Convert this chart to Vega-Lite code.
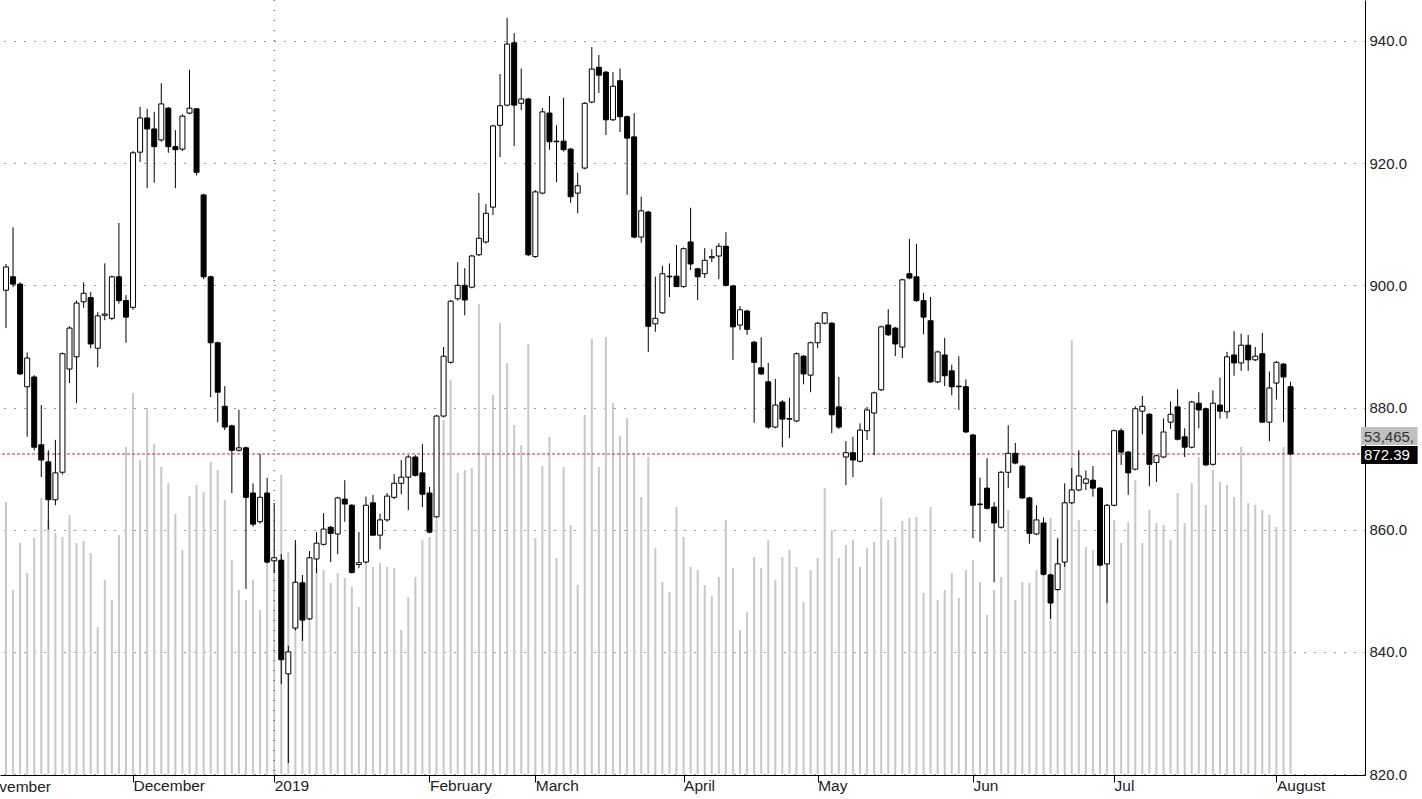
{
"$schema":"https://vega.github.io/schema/vega-lite/v6.json",
"width":1365,"height":775,
"autosize":{"type":"none"},
"padding":{"left":0,"top":0,"right":57,"bottom":24},
"background":"white",
"config":{"view":{"stroke":null},"font":"Liberation Sans"},
"datasets":{"candles":[
{"i":0,"o":899.2,"h":903.5,"l":893,"c":903,"v":43030},
{"i":1,"o":901.4,"h":909.5,"l":899.7,"c":900.2,"v":29109},
{"i":2,"o":900.2,"h":900.5,"l":885.3,"c":885.5,"v":36544},
{"i":3,"o":883.4,"h":889,"l":875.2,"c":888.1,"v":31798},
{"i":4,"o":885,"h":885.3,"l":873,"c":873.5,"v":37335},
{"i":5,"o":873.9,"h":880.4,"l":868.6,"c":871.4,"v":43663},
{"i":6,"o":871.1,"h":873,"l":860,"c":864.9,"v":40183},
{"i":7,"o":864.9,"h":874.7,"l":864,"c":869.3,"v":38126},
{"i":8,"o":869.4,"h":889,"l":869,"c":888.8,"v":37493},
{"i":9,"o":886.3,"h":893.3,"l":884,"c":893,"v":40974},
{"i":10,"o":888.3,"h":897.5,"l":880.7,"c":897.1,"v":36544},
{"i":11,"o":897.3,"h":900.5,"l":896.3,"c":898.7,"v":36861},
{"i":12,"o":898,"h":898.9,"l":889.7,"c":890.4,"v":34962},
{"i":13,"o":889.7,"h":895.6,"l":886.6,"c":895,"v":23255},
{"i":14,"o":895.1,"h":903.6,"l":894.3,"c":895.3,"v":30691},
{"i":15,"o":894.6,"h":901.6,"l":894.3,"c":901.4,"v":27527},
{"i":16,"o":901.4,"h":910.2,"l":897,"c":897.5,"v":37810},
{"i":17,"o":897.5,"h":898.4,"l":890.6,"c":894.8,"v":51731},
{"i":18,"o":896.4,"h":922,"l":896,"c":921.7,"v":60274},
{"i":19,"o":921.8,"h":929.2,"l":920.2,"c":927.4,"v":49675},
{"i":20,"o":927.4,"h":928.9,"l":915.9,"c":925.6,"v":57901},
{"i":21,"o":925.6,"h":928.4,"l":916.8,"c":922.7,"v":52206},
{"i":22,"o":923.8,"h":933.1,"l":923.5,"c":929.7,"v":48567},
{"i":23,"o":929,"h":929.2,"l":921.7,"c":922.7,"v":46036},
{"i":24,"o":922.7,"h":925.4,"l":915.9,"c":922.2,"v":41132},
{"i":25,"o":922.3,"h":928,"l":922,"c":927.7,"v":35437},
{"i":26,"o":928.2,"h":935.3,"l":928,"c":929,"v":43980},
{"i":27,"o":928.9,"h":929,"l":918,"c":918.5,"v":45720},
{"i":28,"o":914.8,"h":915,"l":901,"c":901.4,"v":44612},
{"i":29,"o":901.4,"h":901.6,"l":881.7,"c":890.6,"v":49358},
{"i":30,"o":890.6,"h":890.8,"l":877.6,"c":882.5,"v":48093},
{"i":31,"o":880.2,"h":883.5,"l":876.3,"c":876.8,"v":43347},
{"i":32,"o":877,"h":877.2,"l":866,"c":873,"v":33855},
{"i":33,"o":873,"h":879.6,"l":872.8,"c":873.4,"v":29109},
{"i":34,"o":873.4,"h":873.6,"l":850.3,"c":865.3,"v":27527},
{"i":35,"o":866,"h":867.6,"l":860.5,"c":860.9,"v":30691},
{"i":36,"o":861.3,"h":872.4,"l":861,"c":865.3,"v":25945},
{"i":37,"o":866,"h":868.5,"l":854.5,"c":854.7,"v":33855},
{"i":38,"o":854.9,"h":864.4,"l":852.9,"c":855.4,"v":33855},
{"i":39,"o":855,"h":856,"l":834.7,"c":838.7,"v":47302},
{"i":40,"o":836.4,"h":841,"l":821.8,"c":840,"v":35120},
{"i":41,"o":843.9,"h":858.3,"l":843.5,"c":851.4,"v":36228},
{"i":42,"o":851.3,"h":852.6,"l":841.8,"c":845.2,"v":30691},
{"i":43,"o":845.4,"h":856.5,"l":845.2,"c":855.4,"v":31482},
{"i":44,"o":855.2,"h":859.6,"l":852.9,"c":857.8,"v":32589},
{"i":45,"o":857.6,"h":862.7,"l":857.4,"c":860.1,"v":32273},
{"i":46,"o":860.4,"h":860.6,"l":854.7,"c":859.4,"v":30216},
{"i":47,"o":859.3,"h":865.4,"l":856,"c":865.2,"v":31798},
{"i":48,"o":865,"h":868.1,"l":861.3,"c":864.2,"v":31007},
{"i":49,"o":864,"h":864.2,"l":852.8,"c":853,"v":29583},
{"i":50,"o":854.3,"h":859.6,"l":853.7,"c":854.6,"v":26419},
{"i":51,"o":854.7,"h":865.4,"l":854.5,"c":864,"v":33855},
{"i":52,"o":864.4,"h":865.7,"l":859,"c":859.1,"v":32747},
{"i":53,"o":859.1,"h":862.6,"l":856.8,"c":861.6,"v":33380},
{"i":54,"o":861.6,"h":866,"l":861.3,"c":865.5,"v":32747},
{"i":55,"o":865.3,"h":869.1,"l":865,"c":867.6,"v":32589},
{"i":56,"o":867.6,"h":871.4,"l":865.8,"c":868.6,"v":22781},
{"i":57,"o":868.6,"h":872.2,"l":863.2,"c":871.9,"v":28001},
{"i":58,"o":871.9,"h":872.2,"l":868.7,"c":868.9,"v":31165},
{"i":59,"o":869.3,"h":874,"l":863.7,"c":865.8,"v":37019},
{"i":60,"o":866,"h":867,"l":859.4,"c":859.6,"v":37493},
{"i":61,"o":862.1,"h":878.8,"l":862,"c":878.6,"v":51257},
{"i":62,"o":878.6,"h":889.9,"l":878.4,"c":888.4,"v":56003},
{"i":63,"o":887.4,"h":897.6,"l":887.2,"c":897.4,"v":62331},
{"i":64,"o":897.8,"h":903.8,"l":897.5,"c":900,"v":47618},
{"i":65,"o":900,"h":902.8,"l":895.1,"c":897.6,"v":48093},
{"i":66,"o":899.7,"h":905,"l":899.5,"c":904.8,"v":48409},
{"i":67,"o":905,"h":915.1,"l":904.8,"c":907.7,"v":74354},
{"i":68,"o":907.1,"h":913.3,"l":906.8,"c":911.8,"v":50782},
{"i":69,"o":912.8,"h":926.3,"l":911.5,"c":926.1,"v":59958},
{"i":70,"o":926.2,"h":934.6,"l":921,"c":929.4,"v":71348},
{"i":71,"o":929.5,"h":943.8,"l":929.3,"c":939.5,"v":65020},
{"i":72,"o":939.7,"h":941.3,"l":922.8,"c":929.5,"v":55212},
{"i":73,"o":929.8,"h":935.5,"l":928.7,"c":930.5,"v":52048},
{"i":74,"o":930.5,"h":930.7,"l":904.8,"c":905,"v":68026},
{"i":75,"o":904.7,"h":915.6,"l":904.5,"c":915.3,"v":37335},
{"i":76,"o":915.1,"h":929,"l":914.9,"c":928.4,"v":48726},
{"i":77,"o":928.2,"h":931,"l":922.2,"c":923.5,"v":53313},
{"i":78,"o":923.6,"h":926.2,"l":916.9,"c":923.5,"v":34171},
{"i":79,"o":923.6,"h":930.7,"l":921.9,"c":922.2,"v":48567},
{"i":80,"o":922.3,"h":922.5,"l":913.5,"c":914.5,"v":39392},
{"i":81,"o":915.1,"h":918.4,"l":911.8,"c":916.3,"v":29900},
{"i":82,"o":919.2,"h":930,"l":919,"c":929.8,"v":56794},
{"i":83,"o":930,"h":939,"l":929.8,"c":935.4,"v":68817},
{"i":84,"o":935.7,"h":937.7,"l":931.5,"c":934.4,"v":48567},
{"i":85,"o":934.9,"h":935.1,"l":924.6,"c":927.1,"v":69133},
{"i":86,"o":927.1,"h":934.9,"l":926.9,"c":932.6,"v":58692},
{"i":87,"o":933.5,"h":935.5,"l":925.1,"c":927.6,"v":53472},
{"i":88,"o":927.6,"h":927.8,"l":914.8,"c":924.1,"v":56319},
{"i":89,"o":924.3,"h":928.2,"l":907.7,"c":907.9,"v":50782},
{"i":90,"o":907.9,"h":914.5,"l":907,"c":912.2,"v":43821},
{"i":91,"o":912,"h":912.2,"l":889.1,"c":893.3,"v":50149},
{"i":92,"o":893.7,"h":901.4,"l":892.4,"c":894.6,"v":35753},
{"i":93,"o":895.5,"h":903.2,"l":895.3,"c":901.9,"v":30374},
{"i":94,"o":901.5,"h":903.6,"l":898.1,"c":901.4,"v":28792},
{"i":95,"o":901.5,"h":906.6,"l":899.7,"c":899.8,"v":42239},
{"i":96,"o":899.8,"h":906.2,"l":899.6,"c":906,"v":37493},
{"i":97,"o":907.1,"h":912.7,"l":902.5,"c":903.5,"v":32747},
{"i":98,"o":902.7,"h":902.9,"l":897.6,"c":901.4,"v":32273},
{"i":99,"o":901.9,"h":906.1,"l":901.2,"c":904.1,"v":29900},
{"i":100,"o":904.5,"h":905.9,"l":903.8,"c":904.7,"v":28160},
{"i":101,"o":904.8,"h":906.9,"l":901,"c":906.4,"v":31165},
{"i":102,"o":906.4,"h":908.7,"l":899.8,"c":900,"v":40183},
{"i":103,"o":899.9,"h":900.1,"l":887.8,"c":893.2,"v":32589},
{"i":104,"o":893.5,"h":896.6,"l":892.7,"c":896,"v":22781},
{"i":105,"o":895.8,"h":896,"l":891.9,"c":892.8,"v":25628},
{"i":106,"o":890.7,"h":890.9,"l":877.5,"c":887.4,"v":34329},
{"i":107,"o":886.5,"h":891.5,"l":885.3,"c":885.5,"v":32589},
{"i":108,"o":884.2,"h":887.3,"l":876.5,"c":876.8,"v":37019},
{"i":109,"o":876.8,"h":884.7,"l":876.6,"c":880.4,"v":30691},
{"i":110,"o":880.9,"h":881.2,"l":873.5,"c":878.1,"v":34329},
{"i":111,"o":878.2,"h":881.6,"l":875,"c":878.1,"v":35437},
{"i":112,"o":877.8,"h":889,"l":877.6,"c":888.8,"v":32747},
{"i":113,"o":888.4,"h":888.6,"l":883.8,"c":885.5,"v":27210},
{"i":114,"o":885.3,"h":890.8,"l":882.5,"c":890.6,"v":32273},
{"i":115,"o":890.6,"h":894,"l":889.7,"c":893.8,"v":34171},
{"i":116,"o":893.8,"h":895.6,"l":893.6,"c":895.5,"v":45245},
{"i":117,"o":893.8,"h":894,"l":875.8,"c":878.8,"v":38601},
{"i":118,"o":880.1,"h":885,"l":876.5,"c":876.8,"v":34171},
{"i":119,"o":871.9,"h":874.5,"l":867.3,"c":872.6,"v":36228},
{"i":120,"o":872.6,"h":875.2,"l":868.6,"c":871.4,"v":37019},
{"i":121,"o":871.2,"h":877.4,"l":871,"c":876.3,"v":32747},
{"i":122,"o":876.2,"h":880.1,"l":874.7,"c":879.6,"v":35753},
{"i":123,"o":879.1,"h":882.6,"l":872.2,"c":882.4,"v":36702},
{"i":124,"o":882.9,"h":893.4,"l":882.7,"c":893.2,"v":43663},
{"i":125,"o":893.5,"h":896.1,"l":891.7,"c":891.9,"v":37019},
{"i":126,"o":893,"h":893.2,"l":888.4,"c":890.4,"v":37493},
{"i":127,"o":889.9,"h":901.1,"l":888.1,"c":900.9,"v":40025},
{"i":128,"o":901.9,"h":907.6,"l":901,"c":901.2,"v":40499},
{"i":129,"o":901.4,"h":906.8,"l":897.3,"c":897.5,"v":40657},
{"i":130,"o":897.5,"h":898.8,"l":892,"c":894.8,"v":28634},
{"i":131,"o":894.2,"h":898.1,"l":884,"c":884.2,"v":42239},
{"i":132,"o":884.2,"h":889.3,"l":884,"c":889.1,"v":27527},
{"i":133,"o":888.6,"h":891.4,"l":883.5,"c":885.2,"v":29109},
{"i":134,"o":886,"h":887,"l":882,"c":883.4,"v":31798},
{"i":135,"o":883.5,"h":888.4,"l":879.6,"c":883.4,"v":27843},
{"i":136,"o":883.4,"h":884.6,"l":875.8,"c":876,"v":32273},
{"i":137,"o":875.5,"h":875.7,"l":858.6,"c":864,"v":33855},
{"i":138,"o":864.1,"h":868.5,"l":858,"c":864.2,"v":30374},
{"i":139,"o":866.8,"h":871.7,"l":863.3,"c":863.5,"v":25154},
{"i":140,"o":863.7,"h":864.5,"l":851.4,"c":861.1,"v":29109},
{"i":141,"o":860.4,"h":869.6,"l":860.2,"c":869.4,"v":31165},
{"i":142,"o":869.4,"h":877.1,"l":866.8,"c":872.5,"v":41765},
{"i":143,"o":872.5,"h":874.2,"l":870.7,"c":870.9,"v":27527},
{"i":144,"o":870.4,"h":870.6,"l":865,"c":865.2,"v":30374},
{"i":145,"o":865.2,"h":865.4,"l":857.7,"c":859.4,"v":30216},
{"i":146,"o":859.3,"h":864,"l":859.1,"c":861.6,"v":32273},
{"i":147,"o":861.1,"h":862,"l":852.5,"c":852.7,"v":33855},
{"i":148,"o":852.6,"h":852.8,"l":845.4,"c":848,"v":40499},
{"i":149,"o":850.2,"h":858.5,"l":850,"c":854.4,"v":37493},
{"i":150,"o":854.7,"h":867.6,"l":853.9,"c":864.4,"v":38601},
{"i":151,"o":864.4,"h":870.1,"l":864.2,"c":866.5,"v":68659},
{"i":152,"o":866.5,"h":873,"l":866.3,"c":868.8,"v":40183},
{"i":153,"o":867.6,"h":869.7,"l":866.5,"c":868.3,"v":35911},
{"i":154,"o":868.1,"h":870.4,"l":865.4,"c":866.8,"v":35437},
{"i":155,"o":866.8,"h":867,"l":854,"c":854.2,"v":38601},
{"i":156,"o":854.4,"h":864.2,"l":848,"c":864,"v":37019},
{"i":157,"o":864,"h":876.4,"l":863.8,"c":876.2,"v":40183},
{"i":158,"o":876.2,"h":876.6,"l":870.6,"c":872.7,"v":36544},
{"i":159,"o":872.7,"h":872.9,"l":865.7,"c":869.3,"v":39866},
{"i":160,"o":869.9,"h":880.2,"l":869.7,"c":879.8,"v":46511},
{"i":161,"o":879.4,"h":881.9,"l":875.6,"c":880.2,"v":36544},
{"i":162,"o":878.9,"h":879.1,"l":867.1,"c":870.7,"v":41765},
{"i":163,"o":871,"h":872.3,"l":867.8,"c":872.1,"v":39708},
{"i":164,"o":871.9,"h":878.2,"l":871.7,"c":876,"v":39392},
{"i":165,"o":877.6,"h":881,"l":876.5,"c":878.9,"v":37019},
{"i":166,"o":880.1,"h":883,"l":874.6,"c":874.8,"v":44454},
{"i":167,"o":875.2,"h":876.6,"l":871.9,"c":873.5,"v":39708},
{"i":168,"o":873.5,"h":881.1,"l":873.3,"c":880.9,"v":46036},
{"i":169,"o":880.7,"h":882.5,"l":876.6,"c":879.6,"v":50149},
{"i":170,"o":879.8,"h":880,"l":870.4,"c":870.6,"v":42556},
{"i":171,"o":870.7,"h":882.8,"l":870.5,"c":880.7,"v":48093},
{"i":172,"o":880.4,"h":884.9,"l":878.2,"c":879.4,"v":46194},
{"i":173,"o":879.3,"h":889.1,"l":878.2,"c":888.3,"v":45720},
{"i":174,"o":888.6,"h":892.5,"l":885.2,"c":887.3,"v":43821},
{"i":175,"o":887.3,"h":892.1,"l":886,"c":890.2,"v":51731},
{"i":176,"o":890.2,"h":891.9,"l":886,"c":887.8,"v":42872},
{"i":177,"o":887.8,"h":889.9,"l":887.6,"c":888.4,"v":42556},
{"i":178,"o":888.8,"h":892.2,"l":877.5,"c":877.6,"v":41765},
{"i":179,"o":877.6,"h":885.9,"l":874.5,"c":883.2,"v":40974},
{"i":180,"o":884,"h":887.6,"l":881.3,"c":887.4,"v":39075},
{"i":181,"o":887.1,"h":887.3,"l":877.6,"c":885,"v":51731},
{"i":182,"o":883.4,"h":884.2,"l":872.2,"c":872.39,"v":53465}
]},
"layer":[
{"data":{"name":"candles"},
 "layer":[
  {"mark":{"type":"rule","color":"#c8c8c8","strokeWidth":2},
   "encoding":{
    "x":{"field":"i","type":"quantitative","scale":{"domain":[-0.1406,191.84],"nice":false,"zero":false},
      "axis":{"orient":"bottom","values":[18,38,60,75,96,115,137,157,180],
        "labelExpr":"datum.value==18?'December':datum.value==38?'2019':datum.value==60?'February':datum.value==75?'March':datum.value==96?'April':datum.value==115?'May':datum.value==137?'Jun':datum.value==157?'Jul':'August'",
        "grid":false,"ticks":true,"tickSize":7,"tickColor":"#000000","domainColor":"#000000","labelAlign":"left","labelBaseline":"top","labelPadding":-4,"labelOffset":0,"labelFontSize":15.5,"labelFont":"Liberation Sans","labelColor":"#222222","labelFlush":false,"labelOverlap":false,"labelBound":false,"title":null}},
    "y":{"field":"v","type":"quantitative","scale":{"domain":[-158.2,122447],"nice":false,"zero":false},"axis":null},
    "y2":{"datum":0}}},
  {"data":{"values":[{"v":53465,"lo":52048,"hi":54895,"x0":192.0,"x1":200}]},
   "mark":{"type":"rect","color":"#c0c0c0"},
   "encoding":{"x":{"field":"x0","type":"quantitative"},"x2":{"field":"x1"},"y":{"field":"lo","type":"quantitative"},"y2":{"field":"hi"}}},
  {"data":{"values":[{"v":53465,"xt":192.4,"label":"53,465,"}]},
   "mark":{"type":"text","align":"left","baseline":"middle","fontSize":15,"font":"Liberation Sans","color":"#333333","dy":1},
   "encoding":{"x":{"field":"xt","type":"quantitative"},"y":{"field":"v","type":"quantitative"},"text":{"field":"label"}}}
 ]},
{"data":{"name":"candles"},
 "layer":[
  {"data":{"values":[{"yr":38}]},
   "mark":{"type":"rule","color":"#333333","strokeWidth":1,"strokeDash":[1,9]},
   "encoding":{"x":{"field":"yr","type":"quantitative"}}},
  {"data":{"values":[{"last":872.39}]},
   "mark":{"type":"rule","color":"#e8202a","strokeWidth":1,"strokeDash":[3,2]},
   "encoding":{"y":{"field":"last","type":"quantitative"}}},
  {"mark":{"type":"rule","color":"black","strokeWidth":1},
   "encoding":{
    "x":{"field":"i","type":"quantitative"},
    "y":{"field":"l","type":"quantitative","scale":{"domain":[819.84,946.71],"nice":false,"zero":false},
      "axis":{"orient":"right","values":[820,840,860,880,900,920,940],"format":".1f","grid":true,"gridDash":[1,9],"gridColor":"#333333","gridWidth":1,"ticks":false,"domainColor":"#000000","labelPadding":4,"labelFontSize":15,"labelFont":"Liberation Sans","labelColor":"#222222","labelBound":false,"labelFlush":false,"labelOverlap":false,"title":null}},
    "y2":{"field":"h"}}},
  {"mark":{"type":"bar","width":5,"stroke":"black","strokeWidth":1},
   "encoding":{
    "x":{"field":"i","type":"quantitative"},
    "y":{"field":"o","type":"quantitative"},
    "y2":{"field":"c"},
    "fill":{"condition":{"test":"datum.c > datum.o","value":"white"},"value":"black"}}},
  {"data":{"values":[{"lo":870.75,"hi":873.69,"x0":192.0,"x1":200}]},
   "mark":{"type":"rect","color":"black"},
   "encoding":{"x":{"field":"x0","type":"quantitative"},"x2":{"field":"x1"},"y":{"field":"lo","type":"quantitative"},"y2":{"field":"hi"}}},
  {"data":{"values":[{"last":872.39,"xt":192.4,"label":"872.39"}]},
   "mark":{"type":"text","align":"left","baseline":"middle","fontSize":15,"font":"Liberation Sans","color":"white","dy":1},
   "encoding":{"x":{"field":"xt","type":"quantitative"},"y":{"field":"last","type":"quantitative"},"text":{"field":"label"}}},
  {"data":{"values":[{"month":"November","xi":-3.75,"yp":817.9}]},
   "mark":{"type":"text","align":"left","baseline":"middle","fontSize":15.5,"font":"Liberation Sans","color":"#222222"},
   "encoding":{"x":{"field":"xi","type":"quantitative"},"y":{"field":"yp","type":"quantitative"},"text":{"field":"month"}}}
 ]}
],
"resolve":{"scale":{"y":"independent"}}
}
